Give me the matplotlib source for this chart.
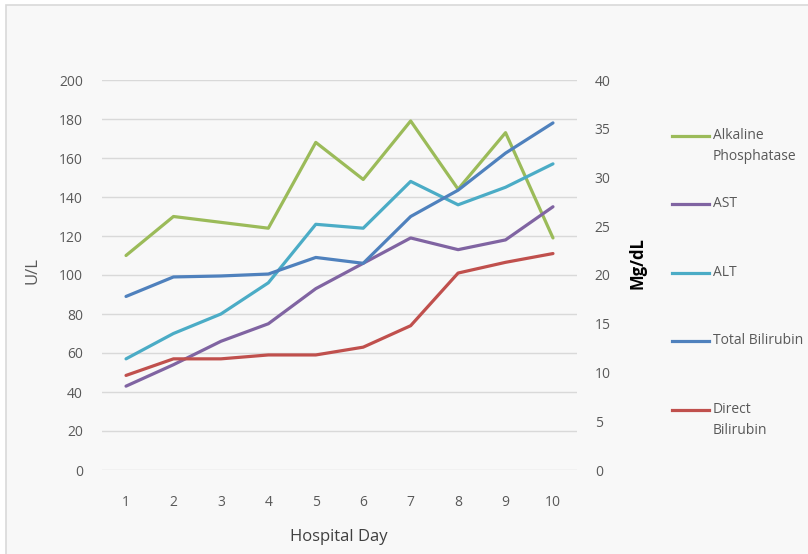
import matplotlib.pyplot as plt
from matplotlib.patches import Rectangle
from matplotlib.lines import Line2D

days = [1, 2, 3, 4, 5, 6, 7, 8, 9, 10]
alk_phos = [110, 130, 127, 124, 168, 149, 179, 144, 173, 119]
ast = [43, 54, 66, 75, 93, 106, 119, 113, 118, 135]
alt = [57, 70, 80, 96, 126, 124, 148, 136, 145, 157]
total_bili = [17.8, 19.8, 19.9, 20.1, 21.8, 21.2, 26.0, 28.7, 32.5, 35.6]
direct_bili = [9.7, 11.4, 11.4, 11.8, 11.8, 12.6, 14.8, 20.2, 21.3, 22.2]

left_series = [("Alkaline\nPhosphatase", alk_phos, "#9bbb59"),
               ("AST", ast, "#8064a2"),
               ("ALT", alt, "#4bacc6")]
right_series = [("Total Bilirubin", total_bili, "#4f81bd"),
                ("Direct\nBilirubin", direct_bili, "#c0504d")]

W, H = 808, 554
fig = plt.figure(figsize=(W / 100, H / 100), dpi=100)
fig.patch.set_facecolor("white")
plt.rcParams['font.family'] = ['Open Sans', 'DejaVu Sans']

# chart frame (runs off the right and bottom edges)
fig.patches.append(Rectangle((6 / W, -0.05), 1, 1.05 - 5 / H, transform=fig.transFigure,
                             facecolor="#f8f8f8", edgecolor="#d9d9d9", lw=1.2,
                             zorder=-10))

ax = fig.add_axes([102.3 / W, (H - 470) / H, (576.7 - 102.3) / W, 390 / H])
ax.set_facecolor("none")
ax2 = ax.twinx()

for name, vals, col in left_series:
    ax.plot(days, vals, color=col, lw=2.3, solid_capstyle="round")
for name, vals, col in right_series:
    ax2.plot(days, vals, color=col, lw=2.3, solid_capstyle="round")

ax.set_xlim(0.5, 10.5)
ax.set_ylim(0, 200)
ax2.set_ylim(0, 40)
ax.set_yticks(range(0, 201, 20))
ax2.set_yticks(range(0, 41, 5))
ax.set_xticks(days)
ax.grid(axis="y", color="#d9d9d9", lw=1)
ax.set_axisbelow(True)
for a in (ax, ax2):
    for s in a.spines.values():
        s.set_visible(False)
    a.tick_params(length=0, labelsize=10, labelcolor="#595959")
ax.tick_params(axis="y", pad=14)
ax2.tick_params(axis="y", pad=13)
ax.tick_params(axis="x", pad=18)

fig.text(33 / W, 1 - 270 / H, "U/L", rotation=90, ha="center", va="center",
         fontsize=12, color="#595959")
fig.text(638 / W, 1 - 263 / H, "Mg/dL", rotation=90, ha="center", va="center",
         fontsize=12, fontweight="bold", color="black")
fig.text(339 / W, 1 - 537 / H, "Hospital Day", ha="center", va="center",
         fontsize=12, color="#404040")

# legend
leg_y = [136, 204, 273, 341, 410]
for (name, vals, col), y in zip(left_series + right_series, leg_y):
    fig.add_artist(Line2D([672 / W, 709 / W], [1 - y / H, 1 - y / H],
                          transform=fig.transFigure, color=col, lw=2.3))
    fig.text(713 / W, 1 - (y - 8) / H, name, ha="left", va="top", fontsize=10,
             color="#595959", linespacing=1.5)

fig.savefig("out.png", dpi=100)
